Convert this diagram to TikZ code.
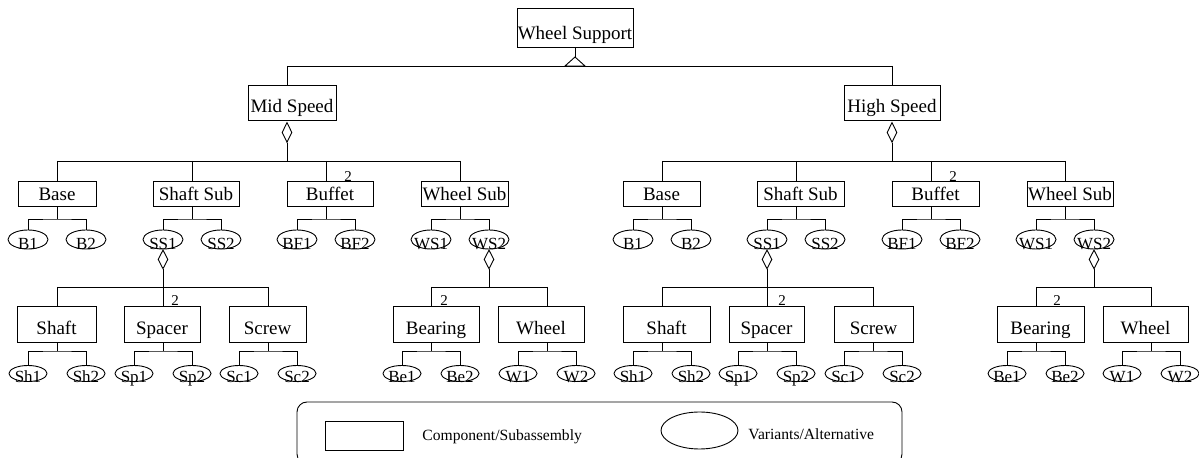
\documentclass[tikz,border=0pt]{standalone}
\usepackage{fontspec}
\setmainfont{Liberation Serif}
\usetikzlibrary{shapes.geometric}

% zero-size label, baseline lowered below the node centre
\newcommand{\lowtxt}[2][3.6pt]{\makebox[0pt]{\raisebox{-#1}[0pt][0pt]{#2}}}
\newcommand{\varshift}{5pt}

% two variant ellipses hanging from a box:
% #1 parent, #2 x of drop line, #3 y of bar, #4 y of ellipse centres,
% #5/#6 first ellipse name/text, #7/#8 second ellipse name/text
\newcommand{\vpair}[8]{%
  \coordinate (#1-v) at (#2,#3);
  \node[var] (#5) at ({#2-29},#4) {\lowtxt[\varshift]{#6}};
  \node[var] (#7) at ({#2+29},#4) {\lowtxt[\varshift]{#8}};
  \draw (#1.south -| #1-v) -- (#1-v);
  \draw (#5.north) |- (#1-v) -| (#7.north);
}

\begin{document}
\begin{tikzpicture}[x=0.5pt,y=-0.5pt,line width=0.45pt,
  sz/.style 2 args={minimum width=#1*0.5pt,minimum height=#2*0.5pt},
  cbox/.style={draw,inner sep=0pt,font=\fontsize{9.5}{11}\selectfont},
  var/.style={draw,ellipse,inner sep=0pt,sz={40}{19},font=\fontsize{8.5}{9.5}\selectfont},
  agg/.style={draw,diamond,inner sep=0pt,anchor=north,sz={10}{19}},
  qty/.style={inner sep=0pt,font=\fontsize{7.5}{8.5}\selectfont},
  legtxt/.style={inner sep=0pt,anchor=base west,font=\fontsize{7.8}{9}\selectfont}]
\useasboundingbox (0,0) rectangle (1199,458);
\fill[white] (0,0) rectangle (1199,458);

% ---------- root ----------
\node[cbox,sz={116}{39}] (ws) at (575,27.5) {\lowtxt[5.9pt]{Wheel Support}};
\coordinate (wsApex) at (575,57);
\draw (ws.south) -- (wsApex);
\draw (wsApex) -- ++(-10,9) -- ++(20,0) -- cycle;
\coordinate (topL) at (287,66);
\coordinate (topR) at (892,66);
\draw (topL) -- (topR);

\node[cbox,sz={88}{35}] (mid) at (292,102.5) {\lowtxt[5.2pt]{Mid Speed}};
\node[cbox,sz={96}{35}] (high) at (892,102.5) {\lowtxt[5.2pt]{High Speed}};
\draw (topL) -- (mid.north -| topL);
\draw (topR) -- (high.north);

% ================= Mid Speed =================
\node[agg,sz={10}{20}] (midAgg) at (287,122) {};
\coordinate (m2j) at (287,161);
\draw (midAgg.south) -- (m2j);
\coordinate (m2a) at (57,161);
\coordinate (m2b) at (192,161);
\coordinate (m2c) at (326,161);
\coordinate (m2d) at (460,161);
\draw (m2a) -- (m2d);

\node[cbox,sz={78}{25}] (mBase) at (57,193.5) {\lowtxt{Base}};
\node[cbox,sz={86}{25}] (mShaftSub) at (196,193.5) {\lowtxt{Shaft Sub}};
\node[cbox,sz={86}{25}] (mBuffet) at (330,193.5) {\lowtxt{Buffet}};
\node[cbox,sz={87}{25}] (mWheelSub) at (464.5,193.5) {\lowtxt{Wheel Sub}};
\draw (m2a) -- (mBase.north -| m2a);
\draw (m2b) -- (mShaftSub.north -| m2b);
\draw (m2c) -- (mBuffet.north -| m2c);
\draw (m2d) -- (mWheelSub.north -| m2d);
\node[qty] (mBuffetQty) at (348,176.5) {2};

\vpair{mBase}{57}{219}{239.5}{mB1}{B1}{mB2}{B2}
\vpair{mShaftSub}{192}{219}{239.5}{mSS1}{SS1}{mSS2}{SS2}
\vpair{mBuffet}{326}{219}{239.5}{mBF1}{BF1}{mBF2}{BF2}
\vpair{mWheelSub}{460}{219}{239.5}{mWS1}{WS1}{mWS2}{WS2}

% shaft subassembly of SS1
\node[agg] (mSSAgg) at (mSS1.south) {};
\coordinate (m3a) at (57,287);
\coordinate (m3b) at (163,287);
\coordinate (m3c) at (268,287);
\draw (mSSAgg.south) -- (m3b);
\draw (m3a) -- (m3c);
\node[cbox,sz={79}{36}] (mShaft) at (56.5,324) {\lowtxt[5.5pt]{Shaft}};
\node[cbox,sz={76}{36}] (mSpacer) at (162,324) {\lowtxt[5.5pt]{Spacer}};
\node[cbox,sz={77}{36}] (mScrew) at (267.5,324) {\lowtxt[5.5pt]{Screw}};
\draw (m3a) -- (mShaft.north -| m3a);
\draw (m3b) -- (mSpacer.north -| m3b);
\draw (m3c) -- (mScrew.north -| m3c);
\node[qty] (mSpacerQty) at (175,301) {2};

% wheel subassembly of WS2
\node[agg] (mWSAgg) at (mWS2.south) {};
\coordinate (m3d) at (431,287);
\coordinate (m3e) at (489,287);
\coordinate (m3f) at (547,287);
\draw (mWSAgg.south) -- (m3e);
\draw (m3d) -- (m3f);
\node[cbox,sz={86}{36}] (mBearing) at (436,324) {\lowtxt[5.5pt]{Bearing}};
\node[cbox,sz={86}{36}] (mWheel) at (541,324) {\lowtxt[5.5pt]{Wheel}};
\draw (m3d) -- (mBearing.north -| m3d);
\draw (m3f) -- (mWheel.north -| m3f);
\node[qty] (mBearingQty) at (444,301) {2};

% ================= High Speed =================
\node[agg,sz={10}{20}] (highAgg) at (892,122) {};
\coordinate (h2j) at (892,161);
\draw (highAgg.south) -- (h2j);
\coordinate (h2a) at (662,161);
\coordinate (h2b) at (796,161);
\coordinate (h2c) at (931,161);
\coordinate (h2d) at (1065,161);
\draw (h2a) -- (h2d);

\node[cbox,sz={77}{25}] (hBase) at (661.5,193.5) {\lowtxt{Base}};
\node[cbox,sz={87}{25}] (hShaftSub) at (800.5,193.5) {\lowtxt{Shaft Sub}};
\node[cbox,sz={87}{25}] (hBuffet) at (935.5,193.5) {\lowtxt{Buffet}};
\node[cbox,sz={86}{25}] (hWheelSub) at (1070,193.5) {\lowtxt{Wheel Sub}};
\draw (h2a) -- (hBase.north -| h2a);
\draw (h2b) -- (hShaftSub.north -| h2b);
\draw (h2c) -- (hBuffet.north -| h2c);
\draw (h2d) -- (hWheelSub.north -| h2d);
\node[qty] (hBuffetQty) at (953,176.5) {2};

\vpair{hBase}{662}{219}{239.5}{hB1}{B1}{hB2}{B2}
\vpair{hShaftSub}{796}{219}{239.5}{hSS1}{SS1}{hSS2}{SS2}
\vpair{hBuffet}{931}{219}{239.5}{hBF1}{BF1}{hBF2}{BF2}
\vpair{hWheelSub}{1065}{219}{239.5}{hWS1}{WS1}{hWS2}{WS2}

% shaft subassembly of SS1
\node[agg] (hSSAgg) at (hSS1.south) {};
\coordinate (h3a) at (662,287);
\coordinate (h3b) at (767,287);
\coordinate (h3c) at (873,287);
\draw (hSSAgg.south) -- (h3b);
\draw (h3a) -- (h3c);
\node[cbox,sz={87}{36}] (hShaft) at (666.5,324) {\lowtxt[5.5pt]{Shaft}};
\node[cbox,sz={75}{36}] (hSpacer) at (766.5,324) {\lowtxt[5.5pt]{Spacer}};
\node[cbox,sz={79}{36}] (hScrew) at (873.5,324) {\lowtxt[5.5pt]{Screw}};
\draw (h3a) -- (hShaft.north -| h3a);
\draw (h3b) -- (hSpacer.north -| h3b);
\draw (h3c) -- (hScrew.north -| h3c);
\node[qty] (hSpacerQty) at (782,301) {2};

% wheel subassembly of WS2
\node[agg] (hWSAgg) at (hWS2.south) {};
\coordinate (h3d) at (1036,287);
\coordinate (h3e) at (1094,287);
\coordinate (h3f) at (1151,287);
\draw (hWSAgg.south) -- (h3e);
\draw (h3d) -- (h3f);
\node[cbox,sz={87}{36}] (hBearing) at (1040.5,324) {\lowtxt[5.5pt]{Bearing}};
\node[cbox,sz={85}{36}] (hWheel) at (1145.5,324) {\lowtxt[5.5pt]{Wheel}};
\draw (h3d) -- (hBearing.north -| h3d);
\draw (h3f) -- (hWheel.north -| h3f);
\node[qty] (hBearingQty) at (1057,301) {2};

% ---------- variants of the lowest parts (flatter ellipses) ----------
\begin{scope}[var/.append style={sz={38}{16}}]
\renewcommand{\varshift}{4.3pt}
\vpair{mShaft}{57}{351}{373.5}{mSh1}{Sh1}{mSh2}{Sh2}
\vpair{mSpacer}{163}{351}{373.5}{mSp1}{Sp1}{mSp2}{Sp2}
\vpair{mScrew}{268}{351}{373.5}{mSc1}{Sc1}{mSc2}{Sc2}
\vpair{mBearing}{431}{351}{373.5}{mBe1}{Be1}{mBe2}{Be2}
\vpair{mWheel}{547}{351}{373.5}{mW1}{W1}{mW2}{W2}
\vpair{hShaft}{662}{351}{373.5}{hSh1}{Sh1}{hSh2}{Sh2}
\vpair{hSpacer}{767}{351}{373.5}{hSp1}{Sp1}{hSp2}{Sp2}
\vpair{hScrew}{873}{351}{373.5}{hSc1}{Sc1}{hSc2}{Sc2}
\vpair{hBearing}{1036}{351}{373.5}{hBe1}{Be1}{hBe2}{Be2}
\vpair{hWheel}{1151}{351}{373.5}{hW1}{W1}{hW2}{W2}
\end{scope}

% ================= legend =================
\node[draw,rounded corners=5pt,inner sep=0pt,sz={605}{62}] (legend) at (599.5,433) {};
\node[draw,inner sep=0pt,sz={78}{29}] (legBox) at (364,435.5) {};
\node[legtxt] (legBoxTxt) at (422,441) {Component/Subassembly};
\node[draw,ellipse,inner sep=0pt,sz={77}{37}] (legEll) at (699.5,430.5) {};
\node[legtxt] (legEllTxt) at (748,440) {Variants/Alternative};
\end{tikzpicture}
\end{document}
